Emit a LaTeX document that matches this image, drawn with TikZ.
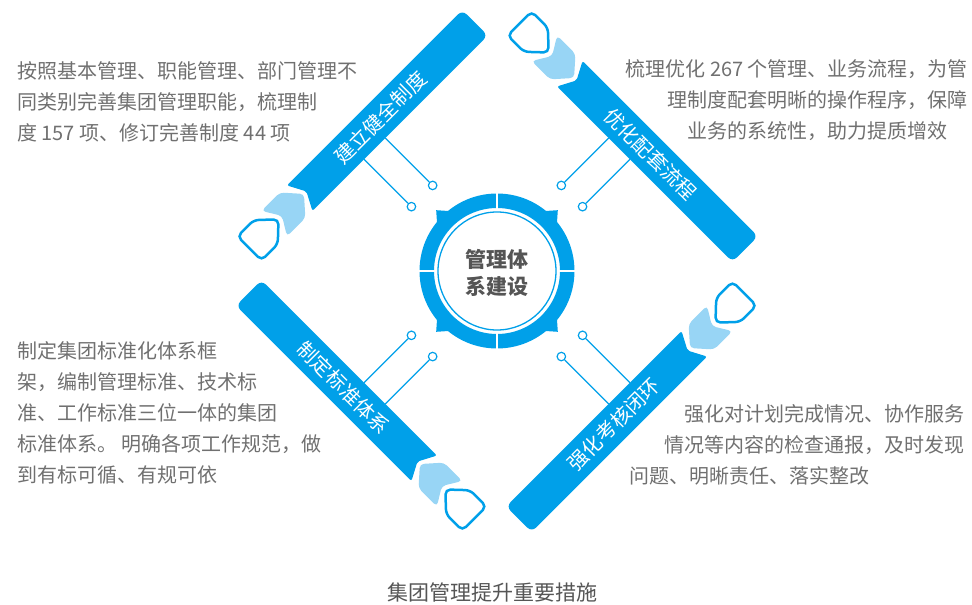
\documentclass[tikz,border=0pt]{standalone}
\usepackage{fontspec}
\setmainfont{Noto Sans CJK SC}
\definecolor{barblue}{RGB}{0,160,233}
\definecolor{featherblue}{RGB}{152,213,245}
\definecolor{descgray}{RGB}{112,112,112}
\definecolor{hubgray}{RGB}{85,85,85}

\begin{document}
\begin{tikzpicture}[x=1pt, y=1pt]
        \tikzstyle{desc} = [inner sep=0pt, text=descgray, font=\fontsize{20}{31}\selectfont]
        \tikzstyle{bartext} = [inner sep=0pt, text=white, font=\fontsize{20}{24}\selectfont]
        \tikzstyle{dot} = [circle, draw=barblue, fill=white, line width=1.2pt, minimum size=8.5pt, inner sep=0pt]
        \tikzstyle{wire} = [draw=barblue, line width=1.2pt]
        \useasboundingbox (-497,-334) rectangle (475,271);
        % the four pencils round the hub
        \foreach \ang/\rot/\id/\title in {45/45/zd/建立健全制度, -45/-45/lc/优化配套流程, 135/-45/bz/制定标准体系, 225/45/kh/强化考核闭环} {
            \begin{scope}[rotate=\ang]
                \coordinate (in1-\id) at (-15,173);
                \coordinate (in2-\id) at (15,173);
                \node [dot] (dot1-\id) at (-15,106) {};
                \node [dot] (dot2-\id) at (15,106) {};
                \path [wire] (in1-\id) -- (dot1-\id);
                \path [wire] (in2-\id) -- (dot2-\id);
                \fill [barblue, rounded corners=2pt] (-78.5,191) -- (-88,209) [rounded corners=6pt] -- (160,209) -- (160,173) [rounded corners=2pt] -- (-88,173) -- cycle;
                \fill [featherblue, rounded corners=4pt] (-82,191) -- (-98,209) -- (-124,209) -- (-113,191) -- (-124,173) -- (-98,173) -- cycle;
                \draw [barblue, fill=white, line width=2.5pt, rounded corners=5pt] (-118,191) -- (-136,208) -- (-159,208) -- (-159,174) -- (-136,174) -- cycle;
                \node [bartext, rotate=\rot] (bar-\id) at (26,191) {\title};
            \end{scope}
        }
        % hub
        \fill [barblue, even odd rule] (0,0) circle (77.5) (0,0) circle (63);
        \foreach \a in {45,135,225,315}
            \fill [barblue] ({\a-7}:76) -- (\a:86) -- ({\a+7}:76) -- cycle;
        \foreach \a in {0,90,180,270}
            \draw [white, line width=2pt] (\a:62) -- (\a:80);
        \draw [barblue, line width=1.3pt] (0,0) circle (59);
        \node [font=\fontsize{21}{27}\selectfont\bfseries, text=hubgray, align=center] (hub) at (0,-2) {管理体\\系建设};
        % texts
        \node [desc, anchor=west, align=left] (zd-text) at (-480,169) {按照基本管理、职能管理、部门管理不\\同类别完善集团管理职能，梳理制\\度 157 项、修订完善制度 44 项};
        \node [desc, anchor=east, align=right] (lc-text) at (471,171) {梳理优化 267 个管理、业务流程，为管\\理制度配套明晰的操作程序，保障\\业务的系统性，助力提质增效\hspace*{1em}};
        \node [desc, anchor=west, align=left] (bz-text) at (-480,-142) {制定集团标准化体系框\\架，编制管理标准、技术标\\准、工作标准三位一体的集团\\标准体系。 明确各项工作规范，做\\到有标可循、有规可依};
        \node [desc, anchor=east, align=right] (kh-text) at (468,-174) {强化对计划完成情况、协作服务\\情况等内容的检查通报，及时发现\\问题、明晰责任、落实整改\hspace*{4.75em}};
        \node [font=\fontsize{21}{25}\selectfont, text=hubgray] (caption) at (-4,-321) {集团管理提升重要措施};
\end{tikzpicture}
\end{document}
